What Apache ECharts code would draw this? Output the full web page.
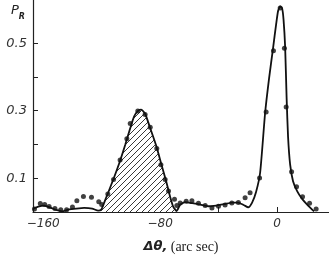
<!DOCTYPE html>
<html>
<head>
<meta charset="utf-8">
<script src="https://cdn.jsdelivr.net/npm/echarts@6/dist/echarts.min.js"></script>
<style>
  html, body { margin: 0; padding: 0; background: #fff; }
  #chart { width: 329px; height: 259px; }
</style>
</head>
<body>
<div id="chart"></div>
<script>
// computed curve (solid line)
const curveX = [-166.8, -163.4, -159.3, -155.2, -151.1, -147, -142.9, -137.4, -132, -126.5, -122.4,
  -120.3, -118.3, -115.6, -111.5, -107.4, -103.9, -100.5, -97.8, -95, -93, -90.3, -86.8, -82.7,
  -79.3, -75.9, -73.2, -71.1, -68.7, -66.3, -62.9, -58.1, -52.6, -47.2, -41.7, -36.2, -30.8,
  -26.7, -22.6, -19.8, -17.1, -14.4, -11.6, -8.2, -5.5, -2.7, -0.7, 0.7, 2.1, 3.4, 4.4, 5.5,
  6.5, 7.5, 8.9, 10.9, 13.7, 17.1, 21.2, 25.3]
const curveY = [0.010, 0.016, 0.019, 0.013, 0.006, 0.002, 0.007, 0.010, 0.012, 0.010, 0.004,
  0.007, 0.028, 0.057, 0.103, 0.152, 0.199, 0.248, 0.283, 0.300, 0.303, 0.291, 0.248, 0.196,
  0.143, 0.091, 0.045, 0.016, 0.003, 0.022, 0.029, 0.026, 0.022, 0.017, 0.019, 0.023, 0.028,
  0.028, 0.020, 0.014, 0.028, 0.059, 0.117, 0.294, 0.396, 0.488, 0.555, 0.596, 0.609, 0.604,
  0.570, 0.488, 0.338, 0.222, 0.141, 0.091, 0.062, 0.039, 0.019, 0.002]

// measured points (dots)
const dotX = [-166, -162, -159, -156, -152, -148, -144, -140, -137, -132.5, -127, -122, -120,
  -115.8, -111.9, -107.4, -102.8, -100.5, -95.3, -90.3, -86.8, -82.3, -79.5, -76.6, -74.3,
  -70.2, -68.6, -66.3, -62.2, -58.3, -53.8, -49.2, -44.6, -40.1, -35.6, -31, -26.5, -21.9,
  -18.5, -12, -7.5, -2.5, 2.1, 5, 6.2, 9.9, 13.3, 17.4, 22.2, 26.7]
const dotY = [0.009, 0.025, 0.022, 0.016, 0.010, 0.007, 0.007, 0.015, 0.033, 0.046, 0.044, 0.030,
  0.022, 0.053, 0.096, 0.154, 0.217, 0.262, 0.299, 0.289, 0.251, 0.188, 0.140, 0.096, 0.062,
  0.038, 0.019, 0.027, 0.032, 0.033, 0.026, 0.019, 0.012, 0.017, 0.021, 0.027, 0.028, 0.042,
  0.057, 0.101, 0.296, 0.478, 0.604, 0.485, 0.311, 0.119, 0.075, 0.045, 0.026, 0.009]

// hatched part of the curve
const hatchFrom = -120.3
const hatchTo = -68.7

const xLabels = [-160, -80, 0]
const xTicks = [-40, 0]
const yTicks = [0.1, 0.2, 0.3, 0.4, 0.5]

const curve = curveX.map((x, i) => [x, curveY[i]])
const dots = dotX.map((x, i) => [x, dotY[i]])
const hatched = curve.filter(p => p[0] >= hatchFrom && p[0] <= hatchTo)

// diagonal hatch pattern
const pat = document.createElement('canvas')
pat.width = 6
pat.height = 6
const pc = pat.getContext('2d')
pc.strokeStyle = '#222'
pc.lineWidth = 0.9
pc.beginPath()
pc.moveTo(0, 6); pc.lineTo(6, 0)
pc.moveTo(-1, 1); pc.lineTo(1, -1)
pc.moveTo(5, 7); pc.lineTo(7, 5)
pc.stroke()

const chart = echarts.init(document.getElementById('chart'))
chart.setOption({
  animation: false,
  grid: { left: 33, right: 0, top: 0, bottom: 42.5 },
  xAxis: {
    type: 'value',
    min: -167,
    max: 35.5,
    splitLine: { show: false },
    axisLine: { onZero: false, lineStyle: { color: '#222', width: 1.2 } },
    axisTick: { inside: true, length: 5, customValues: xTicks, lineStyle: { color: '#222' } },
    axisLabel: {
      customValues: xLabels,
      margin: 6,
      fontStyle: 'italic',
      fontFamily: 'DejaVu Sans',
      fontSize: 12,
      color: '#333',
      formatter: v => String(v).replace('-', '\u2212')
    },
    name: '{a|Δθ,} {b|(arc sec)}',
    nameLocation: 'middle',
    nameGap: 28,
    nameTextStyle: {
      rich: {
        a: { fontFamily: 'DejaVu Sans', fontStyle: 'italic', fontWeight: 'bold', fontSize: 13, color: '#222' },
        b: { fontFamily: 'Liberation Serif', fontSize: 14, color: '#222' }
      }
    }
  },
  yAxis: {
    type: 'value',
    min: 0,
    max: 0.628,
    interval: 0.1,
    splitLine: { show: false },
    axisLine: { onZero: false, lineStyle: { color: '#222', width: 1.2 } },
    axisTick: { inside: true, length: 5, customValues: yTicks, lineStyle: { color: '#222' } },
    axisLabel: {
      margin: 6,
      fontStyle: 'italic',
      fontFamily: 'DejaVu Sans',
      fontSize: 13,
      color: '#333',
      formatter: v => {
        const r = Math.round(v * 10)
        return (r % 2 === 1 && r < 6) ? (r / 10).toFixed(1) : ''
      }
    }
  },
  graphic: [{
    type: 'text',
    left: 11,
    top: 4,
    style: {
      text: '{p|P}{s|R}',
      rich: {
        p: { fontFamily: 'DejaVu Sans', fontStyle: 'italic', fontSize: 13, fill: '#222' },
        s: { fontFamily: 'DejaVu Sans', fontStyle: 'italic', fontWeight: 'bold', fontSize: 8, fill: '#222', padding: [12, 0, 0, 0] }
      }
    }
  }],
  series: [
    {
      type: 'line',
      data: hatched,
      symbol: 'none',
      lineStyle: { width: 0 },
      areaStyle: { color: { image: pat, repeat: 'repeat' }, opacity: 1 },
      z: 1
    },
    {
      type: 'line',
      data: curve,
      smooth: 0.2,
      symbol: 'none',
      lineStyle: { color: '#111', width: 1.8 },
      z: 2
    },
    {
      type: 'scatter',
      data: dots,
      symbolSize: 5,
      itemStyle: { color: '#111' },
      z: 3
    }
  ]
})
</script>
</body>
</html>
